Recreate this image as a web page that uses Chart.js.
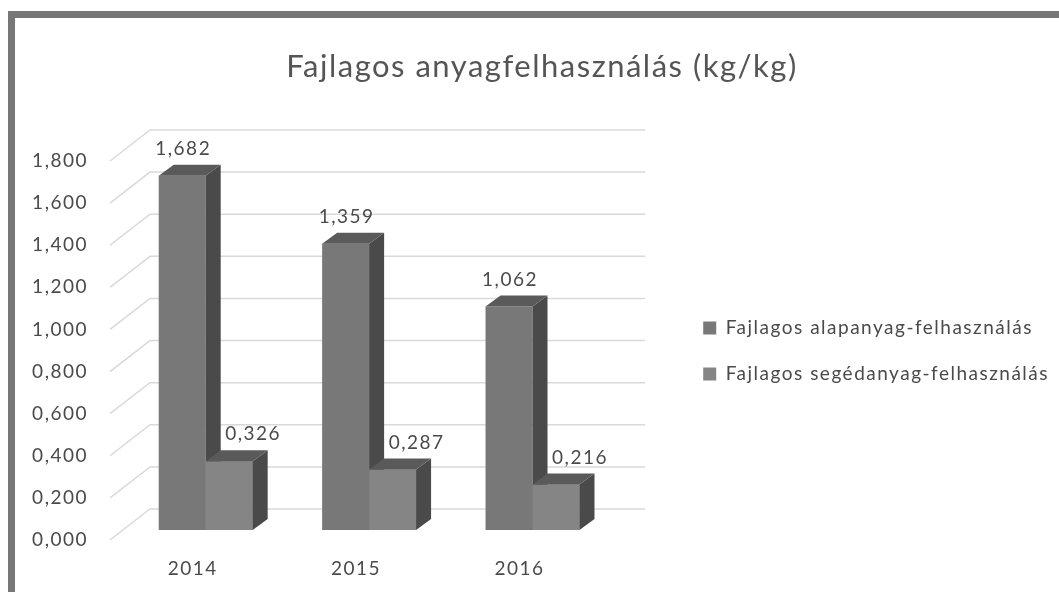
<!DOCTYPE html>
<html lang="hu">
<head>
<meta charset="utf-8">
<title>Fajlagos anyagfelhasználás</title>
<script src="https://cdn.jsdelivr.net/npm/chart.js@4.4.1/dist/chart.umd.min.js"></script>
<style>
  html, body { margin: 0; padding: 0; background: #fff; }
  #wrap { position: relative; width: 1059px; height: 592px; overflow: hidden; }
  /* szürke keret bal és felső oldalon */
  #keret { position: absolute; left: 8px; top: 11px; right: 0; bottom: 0;
           border-left: 7px solid #777; border-top: 7px solid #777; pointer-events: none; }
</style>
</head>
<body>
<div id="wrap">
  <canvas id="anyagChart" width="1059" height="592"></canvas>
  <div id="keret"></div>
</div>
<script>
// Adatok
const evek = ['2014', '2015', '2016'];
const alapanyag = [1.682, 1.359, 1.062];
const segedanyag = [0.326, 0.287, 0.216];
const sorozatNevek = ['Fajlagos alapanyag-felhasználás', 'Fajlagos segédanyag-felhasználás'];
const yMin = 0;
const yMax = 1.8;
const yLepes = 0.2;

// Színek (elöl, tető, oldal)
const elolSzin = ['#787878', '#858585'];
const tetoSzin = ['#5a5a5a', '#5a5a5a'];
const oldalSzin = ['#4a4a4a', '#4a4a4a'];
const szovegSzin = '#4a4a4a';
const racsSzin = '#d9d9d9';

const melyseg = { dx: 15, dy: 11 };
// adatcímkék vízszintes eltolása sorozatonként
const cimkeEltolas = [1, 24];

const szam = v => v.toFixed(3).replace('.', ',');

Chart.defaults.font.family = 'Lato, "Open Sans", sans-serif';

function sokszog(ctx, pontok, szin) {
    ctx.beginPath();
    ctx.moveTo(pontok[0][0], pontok[0][1]);
    for (let i = 1; i < pontok.length; i++) ctx.lineTo(pontok[i][0], pontok[i][1]);
    ctx.closePath();
    ctx.fillStyle = szin;
    ctx.fill();
}

function lapok(ctx, bar, i) {
    const { dx, dy } = melyseg;
    const p = bar.getProps(['x', 'y', 'base', 'width'], true);
    const l = p.x - p.width / 2;
    const r = p.x + p.width / 2;
    sokszog(ctx, [[r, p.y], [r + dx, p.y - dy], [r + dx, p.base - dy], [r, p.base]], oldalSzin[i]);
    sokszog(ctx, [[l, p.y], [l + dx, p.y - dy], [r + dx, p.y - dy], [r, p.y]], tetoSzin[i]);
}

// kicsit ritkított betűk, mint az eredetin
const ritkitas = {
    id: 'ritkitas',
    beforeInit(chart) { chart.ctx.letterSpacing = '1.5px'; },
    beforeUpdate(chart) { chart.ctx.letterSpacing = '1.5px'; },
    beforeDraw(chart) { chart.ctx.letterSpacing = '1.5px'; }
};

// 3D hatás: hátsó fal rácsvonalai, oszlopok teteje és oldala, adatcímkék
const haromD = {
    id: 'haromD',
    beforeDatasetsDraw(chart) {
        const ctx = chart.ctx;
        const y = chart.scales.y;
        const area = chart.chartArea;
        ctx.save();
        ctx.strokeStyle = racsSzin;
        ctx.lineWidth = 1.5;
        y.ticks.forEach(t => {
            const py = y.getPixelForValue(t.value);
            ctx.beginPath();
            ctx.moveTo(area.left - 14, py + 10);
            ctx.lineTo(area.left + 26, py - 21);
            ctx.lineTo(area.right + 31, py - 21);
            ctx.stroke();
        });
        ctx.restore();
    },
    afterDatasetsDraw(chart) {
        const ctx = chart.ctx;
        ctx.save();
        // első sorozat oldala, teteje; a második sorozat elölről újra, majd oldala, teteje
        chart.getDatasetMeta(0).data.forEach(bar => lapok(ctx, bar, 0));
        chart.getDatasetMeta(1).data.forEach(bar => {
            bar.draw(ctx);
            lapok(ctx, bar, 1);
        });
        ctx.fillStyle = szovegSzin;
        ctx.font = '19px Lato, "Open Sans", sans-serif';
        ctx.textAlign = 'center';
        ctx.textBaseline = 'middle';
        chart.data.datasets.forEach((ds, i) => {
            chart.getDatasetMeta(i).data.forEach((bar, j) => {
                ctx.fillText(szam(ds.data[j]), bar.x + cimkeEltolas[i], bar.y - 27);
            });
        });
        ctx.restore();
    }
};

const ctx = document.getElementById('anyagChart').getContext('2d');
const anyagChart = new Chart(ctx, {
    type: 'bar',
    data: {
        labels: evek,
        datasets: [{
            label: sorozatNevek[0],
            data: alapanyag,
            backgroundColor: elolSzin[0],
            borderWidth: 0
        }, {
            label: sorozatNevek[1],
            data: segedanyag,
            backgroundColor: elolSzin[1],
            borderWidth: 0
        }]
    },
    options: {
        responsive: false,
        animation: false,
        datasets: {
            bar: { categoryPercentage: 0.575, barPercentage: 1.0 }
        },
        layout: {
            padding: { left: 25, right: 0, top: 0, bottom: 0 }
        },
        scales: {
            x: {
                grid: { display: false, drawTicks: false },
                border: { display: false },
                ticks: {
                    color: szovegSzin,
                    font: { size: 19 },
                    padding: 27,
                    labelOffset: -13
                },
                afterFit(s) { s.height = 62; }
            },
            y: {
                min: yMin,
                max: yMax,
                grid: { display: false, drawTicks: false },
                border: { display: false },
                ticks: {
                    stepSize: yLepes,
                    color: szovegSzin,
                    font: { size: 19 },
                    padding: 36,
                    labelOffset: 10,
                    callback: v => szam(v)
                },
                afterFit(s) { s.width = 99; }
            },
            // üres hely a rajzterület és a jelmagyarázat között
            y2: {
                type: 'linear',
                position: 'right',
                grid: { display: false, drawTicks: false },
                border: { display: false },
                ticks: { display: false },
                afterFit(s) { s.width = 62; }
            }
        },
        plugins: {
            title: {
                display: true,
                text: 'Fajlagos anyagfelhasználás (kg/kg)',
                color: '#555',
                font: { size: 31, weight: 'normal' },
                padding: { top: 48, bottom: 65.8 }
            },
            legend: {
                position: 'right',
                maxWidth: 420,
                title: {
                    display: true,
                    text: ' ',
                    font: { size: 10 },
                    padding: { top: 49, bottom: 49 }
                },
                labels: {
                    boxWidth: 13,
                    boxHeight: 13,
                    padding: 27,
                    color: szovegSzin,
                    font: { size: 19 }
                }
            },
            tooltip: { enabled: false }
        }
    },
    plugins: [ritkitas, haromD]
});
</script>
</body>
</html>
